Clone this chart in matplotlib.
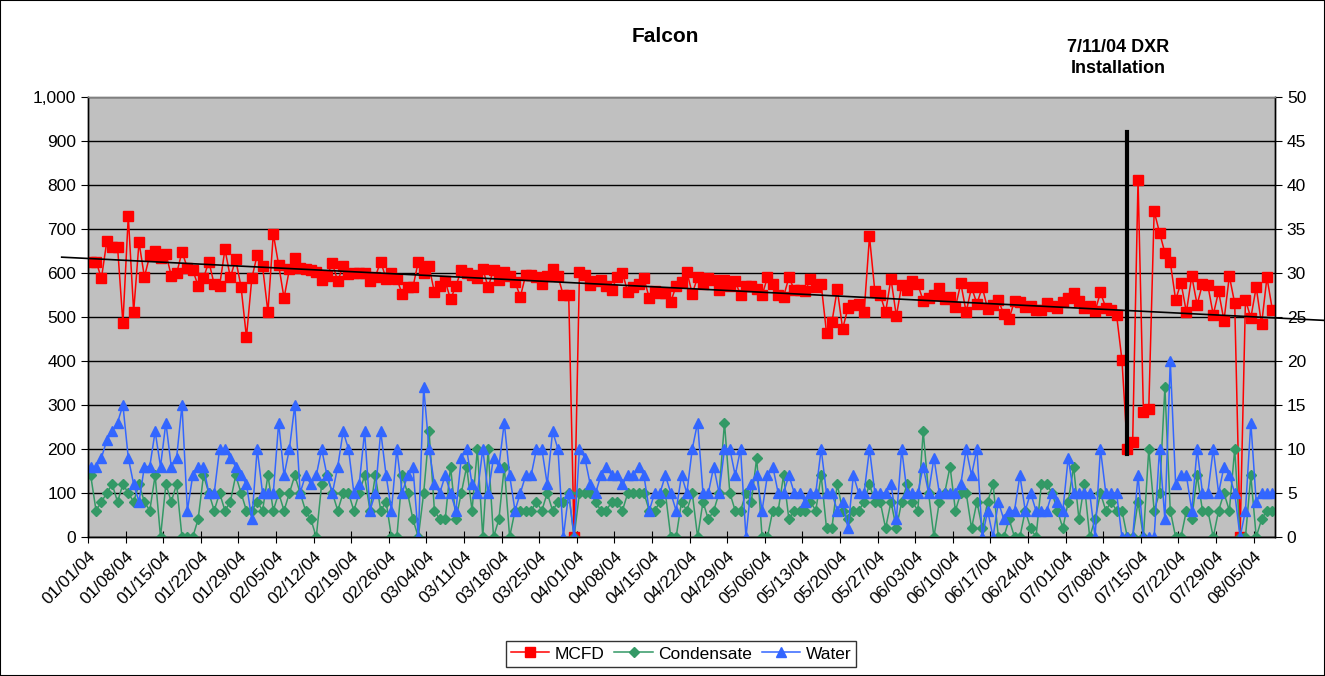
import numpy as np
import pandas as pd
import matplotlib
matplotlib.use("Agg")
import matplotlib.pyplot as plt
from matplotlib.patches import Rectangle
from matplotlib.ticker import FuncFormatter

plt.rcParams["font.family"] = ["Liberation Sans", "DejaVu Sans"]

# daily values, 01/01/04 .. 08/08/04
mcfd = [
    626, 626, 588, 672, 658, 660, 486, 729, 512, 670,
    591, 640, 651, 634, 644, 594, 599, 648, 612, 607,
    571, 588, 626, 574, 571, 654, 590, 631, 568, 454,
    588, 641, 615, 511, 689, 618, 543, 609, 634, 611,
    608, 607, 602, 585, 594, 622, 581, 617, 598, 599,
    599, 599, 581, 592, 626, 587, 599, 587, 552, 568,
    568, 626, 599, 615, 556, 571, 582, 540, 571, 606,
    599, 596, 589, 609, 568, 607, 583, 602, 594, 580,
    546, 596, 596, 590, 574, 593, 609, 593, 549, 549,
    0, 602, 596, 573, 581, 585, 570, 562, 590, 601,
    556, 568, 574, 588, 543, 560, 554, 554, 534, 571,
    579, 603, 553, 590, 575, 588, 584, 562, 584, 570,
    581, 550, 571, 571, 564, 549, 590, 574, 549, 546,
    590, 562, 562, 558, 587, 568, 575, 464, 488, 563,
    473, 521, 528, 530, 511, 683, 558, 550, 511, 587,
    502, 573, 562, 582, 574, 537, 543, 549, 565, 540,
    546, 522, 577, 511, 568, 530, 568, 518, 528, 539,
    506, 496, 537, 534, 522, 526, 517, 517, 532, 526,
    521, 535, 544, 554, 537, 521, 526, 513, 556, 521,
    517, 505, 403, 201, 216, 812, 284, 292, 740, 692,
    646, 625, 539, 578, 511, 593, 528, 575, 572, 505,
    558, 492, 593, 531, 0, 539, 498, 568, 483, 590,
    517,
]
condensate = [
    7, 3, 4, 5, 6, 4, 6, 5, 4, 6,
    4, 3, 7, 0, 6, 4, 6, 0, 0, 0,
    2, 7, 5, 3, 5, 3, 4, 7, 5, 3,
    3, 4, 3, 7, 3, 5, 3, 5, 7, 5,
    3, 2, 0, 6, 7, 5, 3, 5, 5, 3,
    5, 7, 3, 7, 3, 4, 0, 0, 7, 5,
    2, 0, 5, 12, 3, 2, 2, 8, 2, 5,
    8, 3, 10, 0, 10, 0, 2, 8, 0, 3,
    3, 3, 3, 4, 3, 5, 3, 4, 4, 5,
    0, 5, 5, 5, 4, 3, 3, 4, 4, 3,
    5, 5, 5, 5, 3, 3, 4, 5, 0, 0,
    4, 3, 5, 0, 4, 2, 3, 5, 13, 5,
    3, 3, 5, 4, 9, 0, 0, 3, 3, 7,
    2, 3, 3, 3, 4, 3, 7, 1, 1, 6,
    3, 2, 3, 3, 4, 6, 4, 4, 1, 4,
    1, 4, 6, 4, 3, 12, 5, 0, 4, 5,
    8, 3, 5, 5, 1, 4, 1, 4, 6, 0,
    0, 2, 0, 0, 3, 1, 0, 6, 6, 5,
    3, 1, 4, 8, 2, 6, 0, 2, 5, 3,
    4, 3, 3, 0, 0, 4, 0, 10, 3, 5,
    17, 3, 0, 0, 3, 2, 7, 3, 3, 0,
    3, 5, 3, 10, 0, 0, 7, 0, 2, 3,
    3,
]
water = [
    8, 8, 9, 11, 12, 13, 15, 9, 6, 4,
    8, 8, 12, 8, 13, 8, 9, 15, 3, 7,
    8, 8, 5, 5, 10, 10, 9, 8, 7, 6,
    2, 10, 5, 5, 5, 13, 7, 10, 15, 5,
    7, 6, 7, 10, 7, 5, 8, 12, 10, 5,
    6, 12, 3, 5, 12, 7, 3, 10, 5, 7,
    8, 0, 17, 10, 6, 5, 7, 5, 3, 9,
    10, 6, 5, 10, 5, 9, 8, 13, 7, 3,
    5, 7, 7, 10, 10, 6, 12, 10, 0, 5,
    0, 10, 9, 6, 5, 7, 8, 7, 7, 6,
    7, 7, 8, 7, 3, 5, 5, 7, 5, 3,
    7, 5, 10, 13, 5, 5, 8, 5, 10, 10,
    7, 10, 0, 6, 7, 3, 7, 8, 5, 5,
    7, 5, 5, 4, 5, 5, 10, 5, 5, 3,
    4, 1, 7, 5, 5, 10, 5, 5, 5, 6,
    2, 10, 5, 5, 5, 8, 5, 9, 5, 5,
    5, 5, 6, 10, 7, 10, 0, 3, 0, 4,
    2, 3, 3, 7, 3, 5, 3, 3, 3, 5,
    4, 3, 9, 5, 5, 5, 5, 0, 10, 5,
    5, 5, 0, 0, 0, 7, 0, 0, 0, 10,
    2, 20, 6, 7, 7, 3, 10, 5, 5, 10,
    5, 8, 7, 5, 0, 3, 13, 4, 5, 5,
    5,
]

# hand drawn trend line (days from 01/01/04, MCFD) and DXR marker
trend_day = [-4.9, 230.7]
trend_val = [636, 492]
dxr_day = 193
dxr_range = [189, 920]

dates = pd.date_range("2004-01-01", periods=len(mcfd), freq="D")
x = np.arange(len(mcfd)) + 0.5
tick_pos = np.arange(0, len(mcfd), 7)
tick_labels = [d.strftime("%m/%d/%y") for d in dates[tick_pos]]

fig = plt.figure(figsize=(13.25, 6.76), dpi=100)
ax = fig.add_axes([88 / 1325, 1 - 537 / 676, (1275 - 88) / 1325, (537 - 97) / 676])
ax.set_facecolor("#C0C0C0")

ax.set_ylim(0, 1000)
ax.set_yticks(np.arange(0, 1001, 100))
ax.yaxis.set_major_formatter(FuncFormatter(lambda v, p: f"{int(v):,}"))
ax.grid(axis="y", color="black", linewidth=1)
ax.set_axisbelow(True)

ax.plot(x, mcfd, color="#FF0000", marker="s", markersize=6.5,
        linewidth=1.1, label="MCFD", zorder=3)
ax.plot(trend_day, trend_val, color="black", linewidth=1.2, clip_on=False, zorder=4)
ax.plot([dxr_day + 0.5, dxr_day + 0.5], dxr_range, color="black",
        linewidth=3, zorder=5)

ax2 = ax.twinx()
ax2.set_ylim(0, 50)
ax2.set_yticks(np.arange(0, 51, 5))
ax2.plot(x, condensate, color="#339966", marker="D", markersize=5.5,
         linewidth=1.1, label="Condensate")
ax2.plot(x, water, color="#3366FF", marker="^", markersize=7,
         linewidth=1.1, label="Water")

ax.set_xlim(0, len(mcfd))
ax.set_xticks(tick_pos)
ax.set_xticklabels(tick_labels, rotation=45, ha="right", rotation_mode="anchor")
ax.tick_params(axis="x", direction="inout", length=9, labelsize=12.5, pad=4)
ax.tick_params(axis="y", direction="out", length=5, labelsize=12.5)
ax2.tick_params(axis="y", direction="out", length=5, labelsize=12.5)

for a in (ax, ax2):
    for s in a.spines.values():
        s.set_color("black")
        s.set_linewidth(1)
    a.spines["top"].set_color("#808080")

fig.text(665 / 1325, 1 - 37 / 676, "Falcon", ha="center", va="center",
         fontsize=15, fontweight="bold")
fig.text(1118 / 1325, 1 - 58 / 676, "7/11/04 DXR\nInstallation", ha="center",
         va="center", fontsize=13, fontweight="bold", linespacing=1.35)

h1, l1 = ax.get_legend_handles_labels()
h2, l2 = ax2.get_legend_handles_labels()
leg = fig.legend(h1 + h2, l1 + l2, loc="center", bbox_to_anchor=(681 / 1325, 1 - 654 / 676),
                 ncol=3, fontsize=12.5, frameon=True, fancybox=False, edgecolor="black",
                 handlelength=2.2, handletextpad=0.3, columnspacing=0.6, borderpad=0.3)
leg.get_frame().set_linewidth(1)

fig.add_artist(Rectangle((0, 0), 1, 1, transform=fig.transFigure, fill=False,
                         edgecolor="black", linewidth=1.5))

fig.savefig("out.png", dpi=100)
